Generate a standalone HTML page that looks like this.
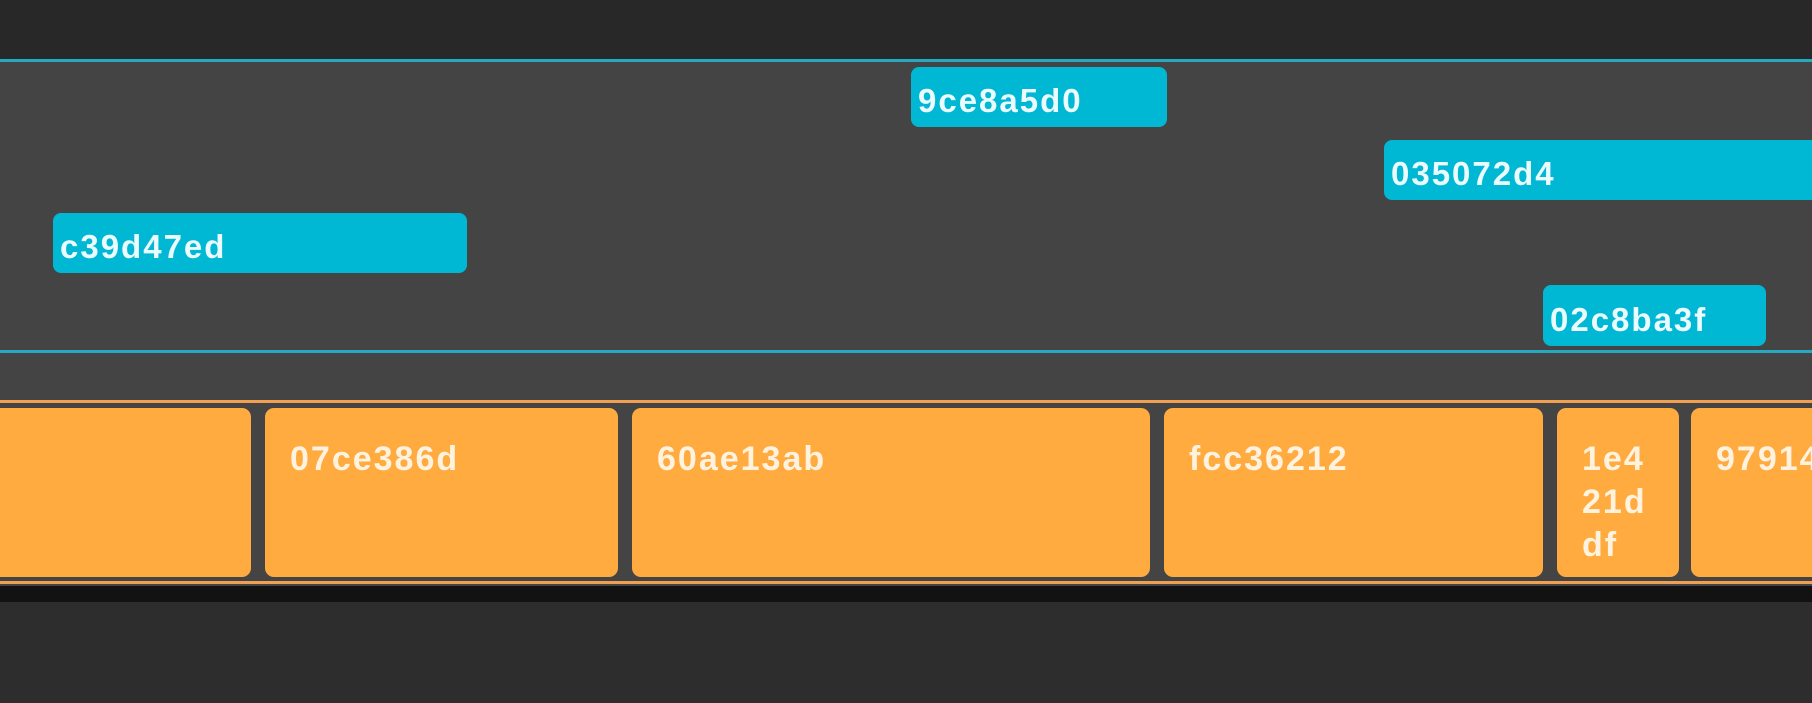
<!DOCTYPE html>
<html><head><style>
body{margin:0;width:1812px;height:703px;background:#2d2d2d;position:relative;overflow:hidden;font-family:"Liberation Sans",sans-serif;font-weight:bold;}
div{position:absolute;box-sizing:border-box;}
.c{background:#00b8d4;border-radius:8px;color:#eafcff;font-size:33px;padding-left:7px;padding-top:8px;display:flex;align-items:center;letter-spacing:2px;white-space:nowrap;overflow:hidden}
.o{background:#ffab40;border-radius:9px;top:408px;height:169px;color:#fff3e0;font-size:34px;line-height:43px;padding:30px 25px;letter-spacing:2px;overflow:hidden;white-space:nowrap}
</style></head><body>
<div style="left:0;top:0;width:1812px;height:59px;background:#282828"></div>
<div style="left:0;top:59px;width:1812px;height:527px;background:#444"></div>
<div style="left:0;top:59px;width:1812px;height:3px;background:#26a9c0"></div>
<div style="left:0;top:350px;width:1812px;height:3px;background:#26a9c0"></div>
<div style="left:0;top:400px;width:1812px;height:3px;background:#f0a050"></div>
<div style="left:0;top:581px;width:1812px;height:3px;background:#f0a050"></div>
<div style="left:0;top:586px;width:1812px;height:16px;background:#121212"></div>
<div class="c" style="left:911px;top:67px;width:256px;height:60px">9ce8a5d0</div>
<div class="c" style="left:1384px;top:140px;width:440px;height:60px">035072d4</div>
<div class="c" style="left:53px;top:213px;width:414px;height:60px">c39d47ed</div>
<div class="c" style="left:1543px;top:285px;width:223px;height:61px">02c8ba3f</div>
<div class="o" style="left:-20px;width:271px"></div>
<div class="o" style="left:265px;width:353px">07ce386d</div>
<div class="o" style="left:632px;width:518px">60ae13ab</div>
<div class="o" style="left:1164px;width:379px">fcc36212</div>
<div class="o" style="left:1557px;width:122px">1e4<br>21d<br>df</div>
<div class="o" style="left:1691px;width:140px">97914</div>
</body></html>
